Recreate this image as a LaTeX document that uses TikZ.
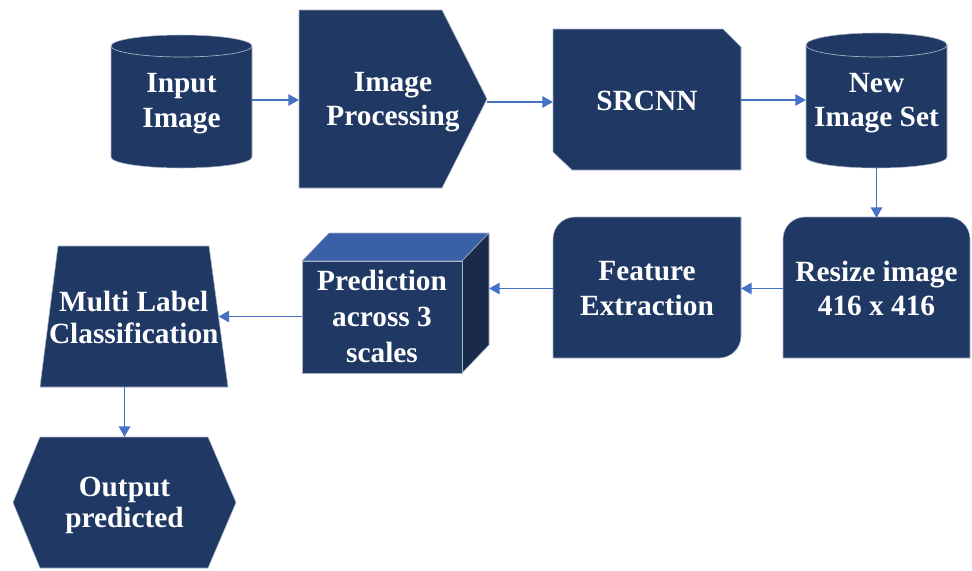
\documentclass[tikz,border=0pt]{standalone}
\usepackage{fontspec}
\setmainfont{Liberation Serif}
\usetikzlibrary{arrows.meta,calc}
\definecolor{navy}{HTML}{203864}
\definecolor{flowblue}{HTML}{4472C4}
\definecolor{cubetop}{HTML}{3A60A8}
\definecolor{cubeside}{HTML}{1A2A4A}
\definecolor{rim}{HTML}{A9B3C8}
\begin{document}
\begin{tikzpicture}[x=0.75pt,y=-0.75pt,
  box/.style={rectangle,draw=none,inner sep=0pt,outer sep=0pt,text=white,align=center,
    font=\fontsize{22}{26}\selectfont\bfseries},
  tight/.style={font=\fontsize{22}{23.5}\selectfont\bfseries},
  loose/.style={font=\fontsize{22}{27}\selectfont\bfseries},
  body/.style={fill=navy,draw=rim,line width=0.4pt},
  flow/.style={draw=flowblue,line width=1.4pt,-{Triangle[length=8pt,width=8.5pt]}}]
\useasboundingbox (0,0) rectangle (972,571);

% ---- shapes ----
% Input Image (cylinder)
\path[body] (111,46) -- (111,157) arc[start angle=180,end angle=0,x radius=70.5,y radius=11]
  -- (252,46) arc[start angle=0,end angle=-180,x radius=70.5,y radius=11] -- cycle;
\draw[rim,line width=0.5pt] (111,46) arc[start angle=180,end angle=0,x radius=70.5,y radius=11];
% Image Processing (pentagon arrow)
\path[body] (299,10) -- (442,10) -- (487,99) -- (442,188) -- (299,188) -- cycle;
% SRCNN (snipped corners)
\path[body] (553,29) -- (723,29) -- (741,47) -- (741,170) -- (572,170) -- (553,152) -- cycle;
% New Image Set (cylinder)
\path[body] (806,45) -- (806,157) arc[start angle=180,end angle=0,x radius=70.5,y radius=11]
  -- (947,45) arc[start angle=0,end angle=-180,x radius=70.5,y radius=12] -- cycle;
\draw[rim,line width=0.5pt] (806,45) arc[start angle=180,end angle=0,x radius=70.5,y radius=12];
% Resize image (rounded top corners)
\path[body] (783,358) -- (783,239) arc[start angle=180,end angle=270,radius=22]
  -- (948,217) arc[start angle=270,end angle=360,radius=22] -- (970,358) -- cycle;
% Feature Extraction (rounded diagonal corners)
\path[body] (553,358) -- (553,239) arc[start angle=180,end angle=270,radius=22]
  -- (741,217) -- (741,336) arc[start angle=0,end angle=90,radius=22] -- cycle;
% Prediction (cube)
\path[fill=cubetop,draw=rim,line width=0.4pt] (302,261) -- (329,233) -- (489,233) -- (462,261) -- cycle;
\path[fill=cubeside,draw=rim,line width=0.4pt] (462,261) -- (489,233) -- (489,345) -- (462,373) -- cycle;
\path[body] (302,261) rectangle (462,373);
% Multi Label Classification (trapezoid)
\path[body] (58,246) -- (209,246) -- (228,387) -- (40,387) -- cycle;
% Output predicted (hexagon)
\path[body] (40,437) -- (208,437) -- (236,502.5) -- (208,568) -- (40,568) -- (13,502.5) -- cycle;

% ---- labels ----
\node[box,minimum width=105.75pt,minimum height=99.75pt] (inp) at (181.5,103.5) {Input\\Image};
\node[box,minimum width=141pt,minimum height=133.5pt] (proc) at (393,102) {Image\\Processing};
\node[box,minimum width=141pt,minimum height=105.75pt] (src) at (647,101) {SRCNN};
\node[box,minimum width=105.75pt,minimum height=99.75pt] (nis) at (876.5,103) {New\\Image Set};
\node[box,minimum width=140.25pt,minimum height=105.75pt] (rsz) at (876.5,288.5) {Resize image\\416 x 416};
\node[box,minimum width=141pt,minimum height=105.75pt] (feat) at (647,288.5) {Feature\\Extraction};
\node[box,draw=none,minimum width=140.25pt,minimum height=105pt] (cube) at (395.5,303) {};
\node[box,loose,minimum width=120pt,minimum height=84pt] (pred) at (382,316.5) {Prediction\\across 3\\scales};
\node[box,tight,minimum width=127pt,minimum height=105.75pt] (ml) at (133.75,317.5) {Multi Label\\Classification};
\node[box,tight,minimum width=167.25pt,minimum height=98.25pt] (out) at (124.5,505.5) {Output\\predicted};

% ---- connectors ----
\draw[flow] (inp.east |- 0,100) -- (proc.west |- 0,100);
\draw[flow] (proc.east) -- (proc.east -| src.west);
\draw[flow] (src.east |- 0,100) -- (nis.west |- 0,100);
\draw[flow] (nis.south |- 0,168) -- (nis.south |- rsz.north);
\draw[flow] (rsz.west) -- (rsz.west -| feat.east);
\draw[flow] (feat.west) -- (feat.west -| cube.east);
\draw[flow] (pred.west) -- (pred.west -| ml.east);
\draw[flow] (out.north |- 0,387) -- (out.north |- 0,437);
\end{tikzpicture}
\end{document}
